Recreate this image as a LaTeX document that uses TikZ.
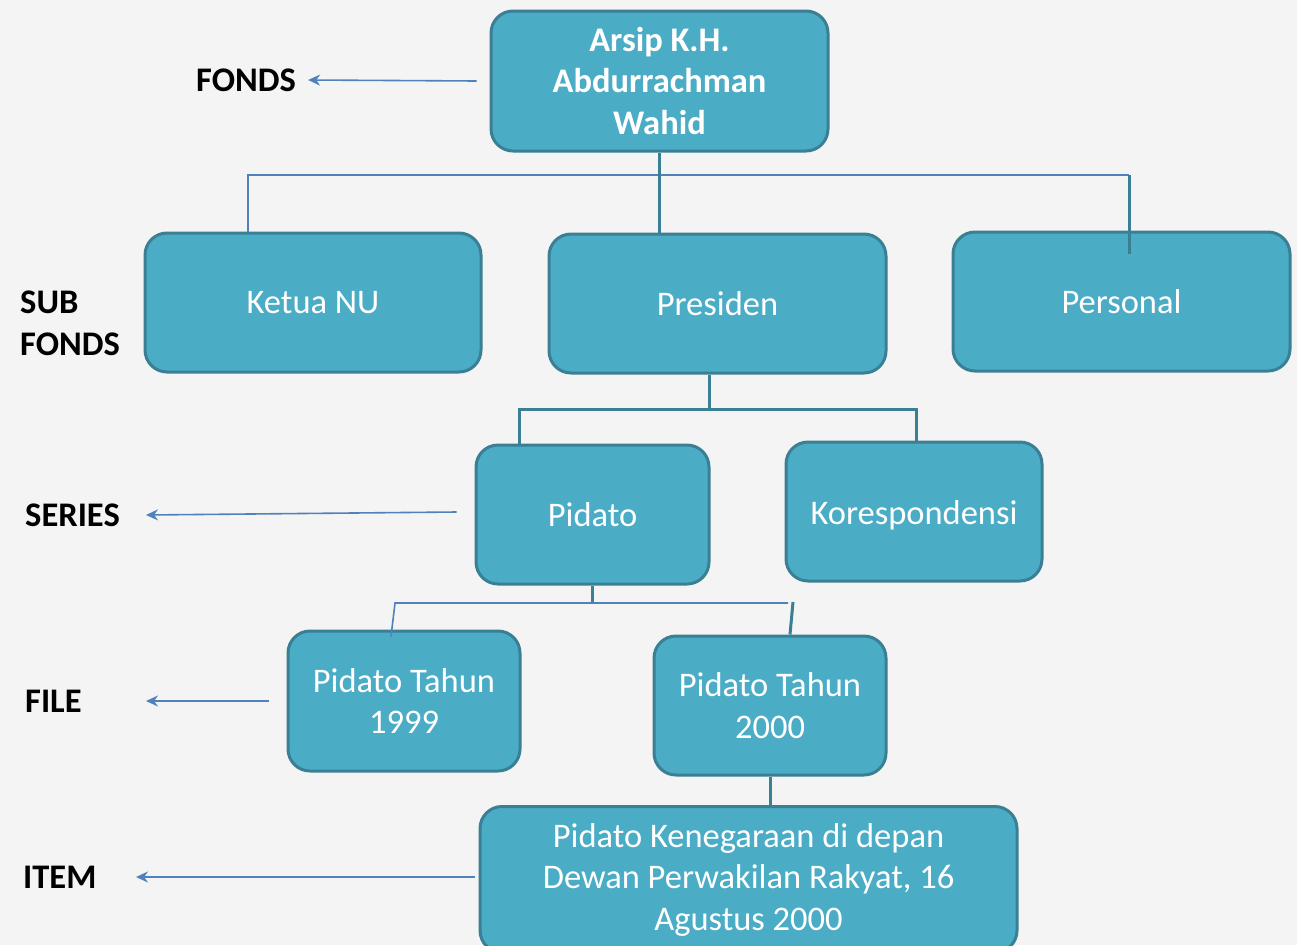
\documentclass[tikz,border=0pt]{standalone}
\usepackage{fontspec}
\setmainfont{Carlito}
\usetikzlibrary{arrows.meta,calc}
\definecolor{bgcol}{HTML}{F4F4F4}
\definecolor{boxfill}{HTML}{4BACC6}
\definecolor{boxedge}{HTML}{3A7F93}
\definecolor{linkblue}{HTML}{4F81BD}
\tikzset{
  unit/.style={draw=boxedge, fill=boxfill, line width=3pt, rounded corners=22pt,
    text=white, align=center, inner sep=0pt,
    font=\fontsize{34.5}{41.5}\selectfont},
  levellabel/.style={text=black, align=left, inner sep=0pt,
    font=\fontsize{34.5}{42}\selectfont\bfseries},
  trunk/.style={draw=boxedge, line width=3pt},
  twig/.style={draw=linkblue, line width=1.6pt},
  pointer/.style={draw=linkblue, line width=1.6pt, -{Stealth[length=12pt,width=11pt]}}
}
\begin{document}
\begin{tikzpicture}[x=1pt,y=-1pt]
\useasboundingbox (0,0) rectangle (1297,945);
\clip (0,0) rectangle (1297,945);
\fill[bgcol] (0,0) rectangle (1297,945);

% hierarchy boxes
\node[unit, minimum width=337pt, minimum height=140pt, font=\fontsize{34.5}{41.5}\selectfont\bfseries]
  (fondsbox) at (659.5,81) {Arsip K.H.\\Abdurrachman\\Wahid};
\node[unit, minimum width=336pt, minimum height=139pt] (ketua) at (313,302.5) {Ketua NU};
\node[unit, minimum width=337pt, minimum height=139pt] (presiden) at (717.5,303.5) {Presiden};
\node[unit, minimum width=337pt, minimum height=139pt] (personal) at (1121.5,301.5) {Personal};
\node[unit, minimum width=233pt, minimum height=139pt] (pidato) at (592.5,514.5) {Pidato};
\node[unit, minimum width=256pt, minimum height=139pt] (kores) at (914,511.5)
  {\raisebox{-12.5pt}[0pt][0pt]{Korespondensi}};
\node[unit, minimum width=232pt, minimum height=140pt] (p1999) at (404,701) {Pidato Tahun\\1999};
\node[unit, minimum width=232pt, minimum height=139pt] (p2000) at (770,705.5) {Pidato Tahun\\2000};
\node[unit, minimum width=537pt, minimum height=146pt] (item) at (748.5,879.5)
  {Pidato Kenegaraan di depan\\Dewan Perwakilan Rakyat, 16\\Agustus 2000};

% level labels
\node[levellabel, anchor=west] (lfonds) at (196,80) {FONDS};
\node[levellabel, anchor=west] (lsub) at (20,323) {SUB\\FONDS};
\node[levellabel, anchor=west] (lseries) at (25,515) {SERIES};
\node[levellabel, anchor=west] (lfile) at (25,701) {FILE};
\node[levellabel, anchor=west] (litem) at (23,877) {ITEM};

% junction points of the tree
\coordinate (busL) at (248,175);
\coordinate (busR) at (1129,175);
\coordinate (busP) at (709,409);
\coordinate (busSL) at (395,603);
\coordinate (busSR) at (793,602);
\coordinate (tipSeries) at (146,515);
\coordinate (tipFile) at (146,701);
\coordinate (tipItem) at (136,877);

% fonds to sub fonds
\draw[twig] (ketua.north -| busL) -- (busL) -- (busR);
\draw[trunk] (fondsbox.south) -- (fondsbox.south |- presiden.north);
\draw[trunk] (busR) -- ($(personal.north -| busR)+(0,23)$);

% sub fonds to series
\draw[trunk] (presiden.south -| busP) -- (busP);
\draw[trunk] (pidato.north -| 519,0) |- (busP) -| (kores.north -| 916,0);

% series to files
\draw[trunk] (pidato.south) -- (pidato.south |- busSL);
\draw[twig] ($(p1999.north -| busSL)+(-4,7)$) -- (busSL) -- (busSL -| 788,0);
\draw[trunk] (busSR) -- ($(p2000.north -| busSR)+(-3,0)$);

% file to item
\draw[trunk] (p2000.south) -- (item.north -| p2000.south);

% level pointers
\draw[pointer] ([xshift=-13pt]fondsbox.west) -- ([xshift=12pt]lfonds.east);
\draw[pointer] ($(pidato.west)+(-18,-2.5)$) -- (tipSeries);
\draw[pointer] ([xshift=-18pt]p1999.west) -- (tipFile);
\draw[pointer] ([xshift=-4pt]item.west |- tipItem) -- (tipItem);
\end{tikzpicture}
\end{document}
